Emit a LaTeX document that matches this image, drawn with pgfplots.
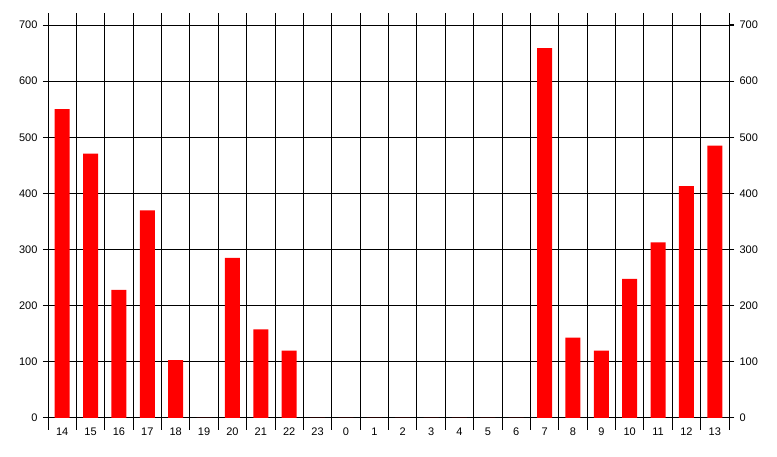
\documentclass[border=0pt]{standalone}
\usepackage{pgfplots}
\pgfplotsset{compat=1.18}
\usepackage{fontspec}
\setmainfont{Liberation Sans}

% hourly counts, 14:00 through 13:00
\pgfplotstableread{
pos count
0 550
1 471
2 228
3 370
4 103
5 0
6 285
7 158
8 120
9 0
10 0
11 0
12 0
13 0
14 0
15 0
16 0
17 659
18 143
19 120
20 248
21 313
22 413
23 485
}\hourdata

\pgfplotsset{
  hourframe/.style={
    at={(48pt,39pt)}, anchor=south west,
    scale only axis, width=681pt, height=393pt,
    xmin=-0.5, xmax=23.5, ymin=0, ymax=700,
    ytick={0,100,...,700},
    tick align=outside,
    major tick length=5pt,
    minor tick length=12pt,
    tick style={line width=1pt, black},
    axis line style={line width=1pt},
    /pgf/number format/assume math mode=true,
    ticklabel style={font=\fontsize{11}{13}\selectfont},
  }
}

\begin{document}
\begin{tikzpicture}
\useasboundingbox (0pt,0pt) rectangle (777pt,457pt);
\begin{axis}[
  hourframe,
  ybar, bar width=15pt,
  xtick={0,...,23},
  xticklabels={14,15,16,17,18,19,20,21,22,23,0,1,2,3,4,5,6,7,8,9,10,11,12,13},
  major x tick style={draw=none},
  minor xtick={-0.5,0.5,...,23.5},
  xminorgrids, ymajorgrids,
  major grid style={line width=1pt, black},
  minor grid style={line width=1pt, black},
  xticklabel style={yshift=-1pt},
  yticklabel style={xshift=-2pt},
]
\addplot[fill=red, draw=none] table[x=pos, y=count] {\hourdata};
\end{axis}
\begin{axis}[
  hourframe,
  axis x line=none,
  axis y line*=right,
  yticklabel pos=right,
  yticklabel style={xshift=2pt},
]
\end{axis}
\end{tikzpicture}
\end{document}
